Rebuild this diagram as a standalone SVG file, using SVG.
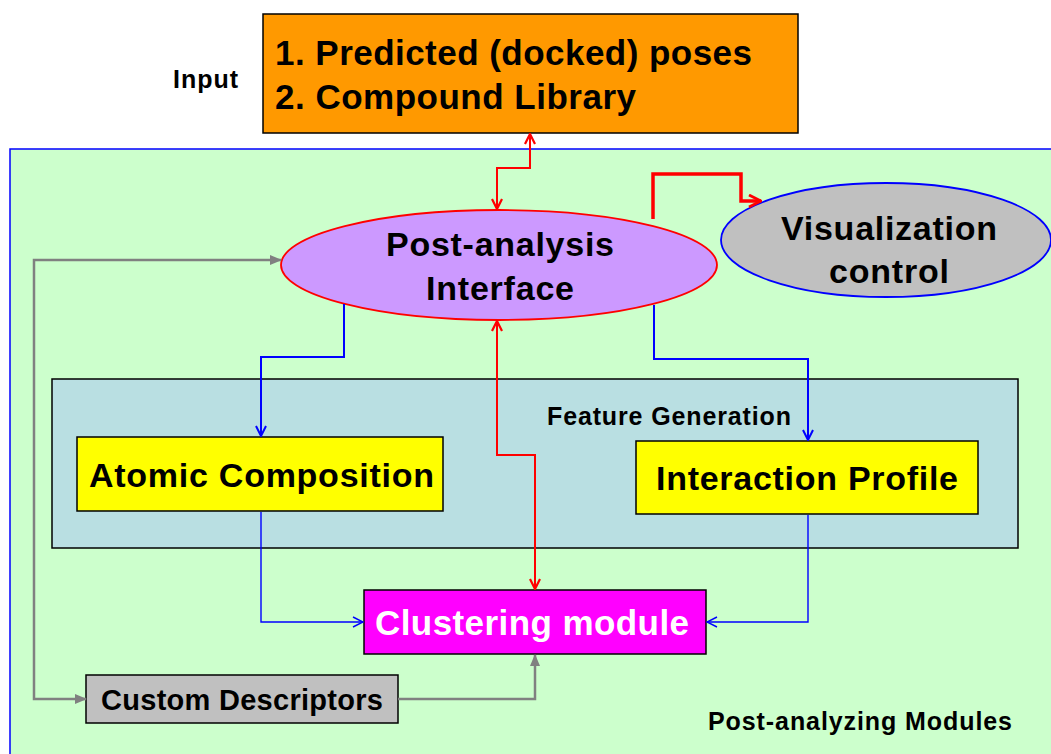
<svg xmlns="http://www.w3.org/2000/svg" width="1051" height="754" viewBox="0 0 1051 754">
<style>
text{font-family:"Liberation Sans",Arial,sans-serif;font-weight:bold;fill:#000}
.c{text-anchor:middle}
.box{stroke:#000;stroke-width:1.5}
.red{fill:none;stroke:#FF0000;stroke-width:2}
.blue{fill:none;stroke:#0000FF;stroke-width:2}
.gray{fill:none;stroke:#808080;stroke-width:2.5}
</style>
<defs>
<marker id="rv" viewBox="0 0 12 12" refX="11" refY="6" markerWidth="12" markerHeight="12" markerUnits="userSpaceOnUse" orient="auto-start-reverse">
<path d="M1,1 L11,6 L1,11" fill="none" stroke="#FF0000" stroke-width="2.2"/>
</marker>
<marker id="rvb" viewBox="0 0 14 14" refX="13" refY="7" markerWidth="14" markerHeight="14" markerUnits="userSpaceOnUse" orient="auto-start-reverse">
<path d="M1,1 L13,7 L1,13" fill="none" stroke="#FF0000" stroke-width="2.8"/>
</marker>
<marker id="bv" viewBox="0 0 12 12" refX="11" refY="6" markerWidth="12" markerHeight="12" markerUnits="userSpaceOnUse" orient="auto-start-reverse">
<path d="M1,1 L11,6 L1,11" fill="none" stroke="#0000FF" stroke-width="2"/>
</marker>
<marker id="bvt" viewBox="0 0 12 12" refX="11" refY="6" markerWidth="12" markerHeight="12" markerUnits="userSpaceOnUse" orient="auto-start-reverse">
<path d="M1,1 L11,6 L1,11" fill="none" stroke="#0000FF" stroke-width="1.4"/>
</marker>
<marker id="gt" viewBox="0 0 12 12" refX="11" refY="6" markerWidth="12" markerHeight="12" markerUnits="userSpaceOnUse" orient="auto-start-reverse">
<path d="M0,1 L12,6 L0,11 Z" fill="#808080"/>
</marker>
</defs>
<rect width="1051" height="754" fill="#FFFFFF"/>

<g id="input-label"><text x="173" y="88" font-size="25" textLength="65" lengthAdjust="spacing">Input</text></g>

<g id="input">
<rect class="box" x="263" y="14" width="535" height="119" fill="#FF9900"/>
<text x="275" y="65" font-size="35" textLength="477" lengthAdjust="spacing">1. Predicted (docked) poses</text>
<text x="275" y="109" font-size="35" textLength="361" lengthAdjust="spacing">2. Compound Library</text>
</g>

<g id="modules-panel">
<rect x="10" y="149" width="1050" height="620" fill="#CCFFCC" stroke="#0000FF" stroke-width="1.5"/>
<text x="708" y="730" font-size="25" textLength="304" lengthAdjust="spacing">Post-analyzing Modules</text>
</g>

<g id="feature-generation">
<rect class="box" x="52" y="379" width="966" height="169" fill="#B9DFE2"/>
<text x="547" y="425" font-size="25" textLength="244" lengthAdjust="spacing">Feature Generation</text>
</g>

<g id="post-analysis-interface">
<ellipse cx="499" cy="265" rx="218" ry="55" fill="#CC99FF" stroke="#FF0000" stroke-width="1.8"/>
<text x="386" y="256" font-size="34" textLength="228" lengthAdjust="spacing">Post-analysis</text>
<text x="426" y="300" font-size="34" textLength="148" lengthAdjust="spacing">Interface</text>
</g>

<g id="visualization-control">
<ellipse cx="886" cy="240" rx="165" ry="57" fill="#C0C0C0" stroke="#0000FF" stroke-width="1.8"/>
<text x="781" y="240" font-size="34" textLength="216" lengthAdjust="spacing">Visualization</text>
<text x="829" y="283" font-size="34" textLength="120" lengthAdjust="spacing">control</text>
</g>

<g id="atomic-composition">
<rect class="box" x="77" y="437" width="366" height="74" fill="#FFFF00"/>
<text x="89" y="487" font-size="34" textLength="345" lengthAdjust="spacing">Atomic Composition</text>
</g>

<g id="interaction-profile">
<rect class="box" x="636" y="441" width="342" height="73" fill="#FFFF00"/>
<text x="656" y="490" font-size="34" textLength="302" lengthAdjust="spacing">Interaction Profile</text>
</g>

<g id="clustering-module">
<rect class="box" x="364" y="590" width="342" height="64" fill="#FF00FF"/>
<text x="375" y="635" font-size="35" textLength="314" lengthAdjust="spacing" style="fill:#FFFFFF">Clustering module</text>
</g>

<g id="custom-descriptors">
<rect class="box" x="86" y="675" width="312" height="48" fill="#C0C0C0"/>
<text x="101" y="710" font-size="29" textLength="282" lengthAdjust="spacing">Custom Descriptors</text>
</g>

<g id="connectors">
<path class="red" d="M530,134 V168 H497 V209" marker-start="url(#rv)" marker-end="url(#rv)"/>
<path fill="none" stroke="#FF0000" stroke-width="3.5" d="M653,219 V174 H741 V201 H761" marker-end="url(#rvb)"/>
<path class="red" d="M497,321 V455 H535 V589" marker-start="url(#rv)" marker-end="url(#rv)"/>
<path class="blue" d="M344,304 V357 H261 V436" marker-end="url(#bv)"/>
<path class="blue" d="M654,305 V359 H808 V440" marker-end="url(#bv)"/>
<path fill="none" stroke="#0000FF" stroke-width="1.4" d="M261,512 V622 H363" marker-end="url(#bvt)"/>
<path fill="none" stroke="#0000FF" stroke-width="1.4" d="M808,515 V622 H707" marker-end="url(#bvt)"/>
<path class="gray" d="M86,699 H34 V260 H281" marker-start="url(#gt)" marker-end="url(#gt)"/>
<path class="gray" d="M398,699 H535 V655" marker-end="url(#gt)"/>
</g>
</svg>
